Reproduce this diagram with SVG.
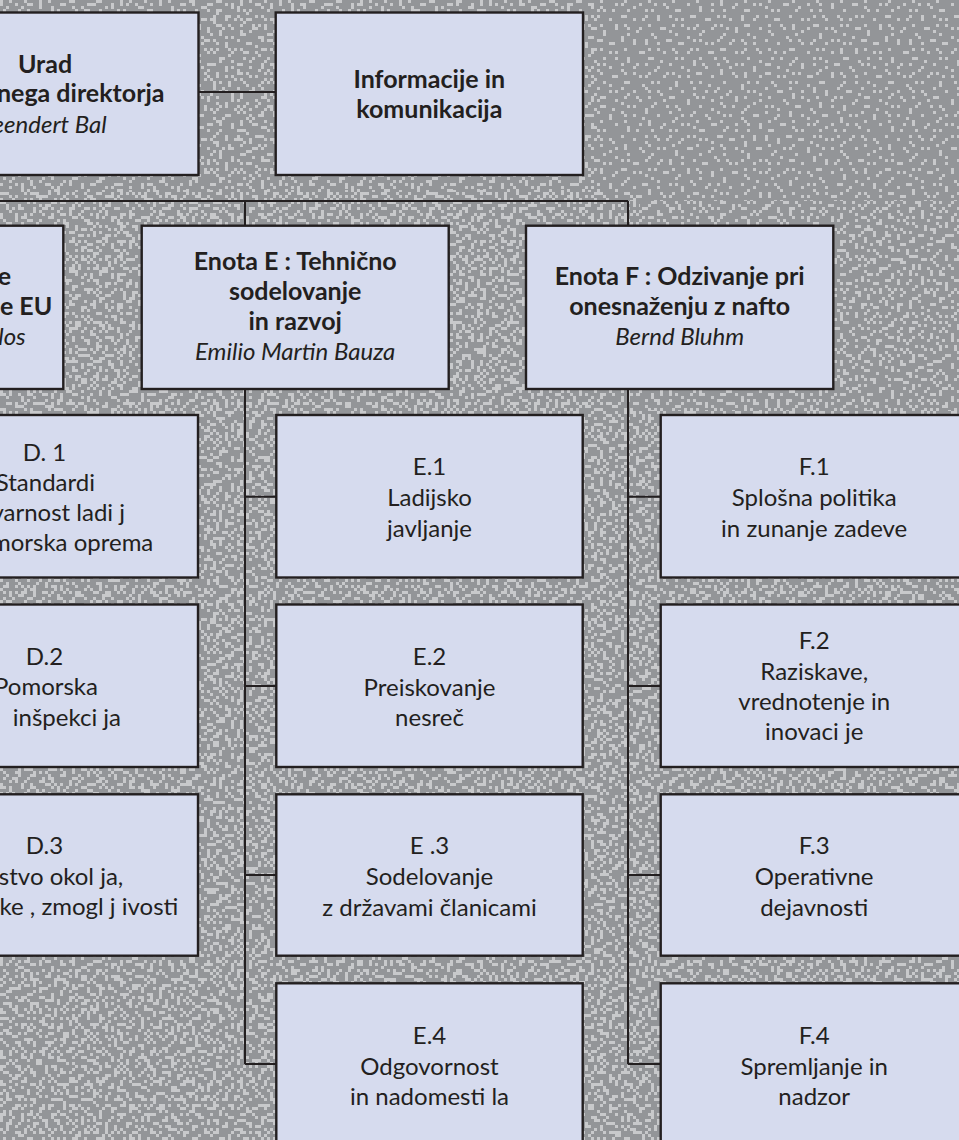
<svg xmlns="http://www.w3.org/2000/svg" width="959" height="1140" viewBox="0 0 959 1140">
<defs>
<pattern id="pA" width="30" height="30" patternUnits="userSpaceOnUse">
<path fill="#c8c9cb" d="M0 3h3v3h-3zM9 0h3v3h-3zM21 6h3v3h-3zM15 15h3v3h-3zM3 21h3v3h-3zM24 18h3v3h-3zM12 27h3v3h-3zM27 9h3v3h-3zM6 12h3v3h-3zM18 24h3v3h-3zM0 18h3v3h-3z"/>
</pattern>
<pattern id="pB" width="27" height="27" patternUnits="userSpaceOnUse">
<path fill="#c8c9cb" d="M3 3h3v3h-3zM12 9h3v3h-3zM21 0h3v3h-3zM6 18h3v3h-3zM18 15h3v3h-3zM24 24h3v3h-3zM0 12h3v3h-3zM15 24h3v3h-3zM9 6h3v3h-3z"/>
</pattern>
<pattern id="pC" width="33" height="33" patternUnits="userSpaceOnUse">
<path fill="#c8c9cb" d="M6 6h3v3h-3zM27 3h3v3h-3zM15 18h3v3h-3zM0 27h3v3h-3zM21 24h3v3h-3zM30 15h3v3h-3zM9 30h3v3h-3zM18 9h3v3h-3z"/>
</pattern>
<pattern id="pD" width="24" height="24" patternUnits="userSpaceOnUse">
<path fill="#c8c9cb" d="M3 9h3v3h-3zM15 3h3v3h-3zM9 18h3v3h-3zM21 15h3v3h-3zM0 0h3v3h-3z"/>
</pattern>
<style>
.box{fill:#d6dbee;stroke:#231f20;stroke-width:2.4}
.con{stroke:#231f20;stroke-width:2;fill:none}
text{font-family:Lato,"Open Sans","Liberation Sans",sans-serif;fill:#231f20;font-size:24px}
.b{font-weight:bold;font-size:25px}
.i{font-style:italic}
.c{text-anchor:middle}
.e{text-anchor:end}
</style>
</defs>
<rect width="959" height="1140" fill="#939598"/>
<rect width="959" height="1140" fill="url(#pC)"/>
<rect width="959" height="1140" fill="url(#pD)"/>
<path fill="url(#pA)" d="M0 0H600V200H959V1140H0Z"/>
<path fill="url(#pB)" d="M0 190H640V410H959V1140H0Z"/>

<g id="connectors">
<path class="con" d="M198.5 92H275.7"/>
<path class="con" d="M0 201H628M245 201V226M628 201V226"/>
<path class="con" d="M245 389V1064M245 496.7H276.3M245 686H276.3M245 875H276.3M245 1064H276.3"/>
<path class="con" d="M628 389V1064M628 496.7H660.7M628 686H660.7M628 875H660.7M628 1064H660.7"/>
</g>

<g id="urad">
<rect class="box" x="-108.5" y="12.5" width="307" height="162.5"/>
<text class="b c" x="45" y="72.7">Urad</text>
<text class="b e" x="164.5" y="101.7">nega direktorja</text>
<text class="i e" x="106.7" y="132.7">eendert Bal</text>
</g>
<g id="info">
<rect class="box" x="275.7" y="12.5" width="307.3" height="162.5"/>
<text class="b c" x="429.3" y="88">Informacije in</text>
<text class="b c" x="429.3" y="118">komunikacija</text>
</g>

<g id="enotaD">
<rect class="box" x="-243.7" y="225.7" width="307" height="163.3"/>
<text class="b e" x="11" y="285">e</text>
<text class="b e" x="52.3" y="315">je EU</text>
<text class="i e" x="25.7" y="345">los</text>
</g>
<g id="enotaE">
<rect class="box" x="141.7" y="225.7" width="307" height="163.3"/>
<text class="b c" x="295.2" y="270">Enota E : Tehnično</text>
<text class="b c" x="295.2" y="300">sodelovanje</text>
<text class="b c" x="295.2" y="330">in razvoj</text>
<text class="i c" x="295.2" y="360">Emilio Martin Bauza</text>
</g>
<g id="enotaF">
<rect class="box" x="526" y="225.7" width="307.3" height="163.3"/>
<text class="b c" x="679.7" y="285">Enota F : Odzivanje pri</text>
<text class="b c" x="679.7" y="315">onesnaženju z nafto</text>
<text class="i c" x="679.7" y="345">Bernd Bluhm</text>
</g>

<g id="D1">
<rect class="box" x="-109" y="415" width="307" height="162.5"/>
<text class="c" x="44.5" y="461">D. 1</text>
<text class="e" x="95" y="491">Standardi</text>
<text class="e" x="125" y="521">varnost ladi j</text>
<text class="e" x="153.3" y="551">morska oprema</text>
</g>
<g id="D2">
<rect class="box" x="-109" y="604.5" width="307" height="162.5"/>
<text class="c" x="44.5" y="664.5">D.2</text>
<text class="c" x="46" y="695">Pomorska</text>
<text class="e" x="121" y="725.5">inšpekci ja</text>
</g>
<g id="D3">
<rect class="box" x="-109" y="794.3" width="307" height="161.4"/>
<text class="c" x="44.5" y="854">D.3</text>
<text class="e" x="123.3" y="884.5">stvo okol ja,</text>
<text class="e" x="178.3" y="915">ke , zmogl j ivosti</text>
</g>

<g id="E1">
<rect class="box" x="276.3" y="415" width="306.4" height="162.5"/>
<text class="c" x="429.5" y="475">E.1</text>
<text class="c" x="429.5" y="506">Ladijsko</text>
<text class="c" x="429.5" y="536.7">javljanje</text>
</g>
<g id="E2">
<rect class="box" x="276.3" y="604.5" width="306.4" height="162.5"/>
<text class="c" x="429.5" y="664.5">E.2</text>
<text class="c" x="429.5" y="695.5">Preiskovanje</text>
<text class="c" x="429.5" y="726">nesreč</text>
</g>
<g id="E3">
<rect class="box" x="276.3" y="794.3" width="306.4" height="161.4"/>
<text class="c" x="429.5" y="854">E .3</text>
<text class="c" x="429.5" y="885">Sodelovanje</text>
<text class="c" x="429.5" y="915.5">z državami članicami</text>
</g>
<g id="E4">
<rect class="box" x="276.3" y="983.3" width="306.4" height="170"/>
<text class="c" x="429.5" y="1043.5">E.4</text>
<text class="c" x="429.5" y="1074.5">Odgovornost</text>
<text class="c" x="429.5" y="1105">in nadomesti la</text>
</g>

<g id="F1">
<rect class="box" x="660.7" y="415" width="307" height="162.5"/>
<text class="c" x="814.2" y="475">F.1</text>
<text class="c" x="814.2" y="506">Splošna politika</text>
<text class="c" x="814.2" y="536.7">in zunanje zadeve</text>
</g>
<g id="F2">
<rect class="box" x="660.7" y="604.5" width="307" height="162.5"/>
<text class="c" x="814.2" y="649.3">F.2</text>
<text class="c" x="814.2" y="680">Raziskave,</text>
<text class="c" x="814.2" y="710">vrednotenje in</text>
<text class="c" x="814.2" y="740">inovaci je</text>
</g>
<g id="F3">
<rect class="box" x="660.7" y="794.3" width="307" height="161.4"/>
<text class="c" x="814.2" y="854">F.3</text>
<text class="c" x="814.2" y="885">Operativne</text>
<text class="c" x="814.2" y="915.5">dejavnosti</text>
</g>
<g id="F4">
<rect class="box" x="660.7" y="983.3" width="307" height="170"/>
<text class="c" x="814.2" y="1043.5">F.4</text>
<text class="c" x="814.2" y="1074.5">Spremljanje in</text>
<text class="c" x="814.2" y="1105">nadzor</text>
</g>
</svg>
